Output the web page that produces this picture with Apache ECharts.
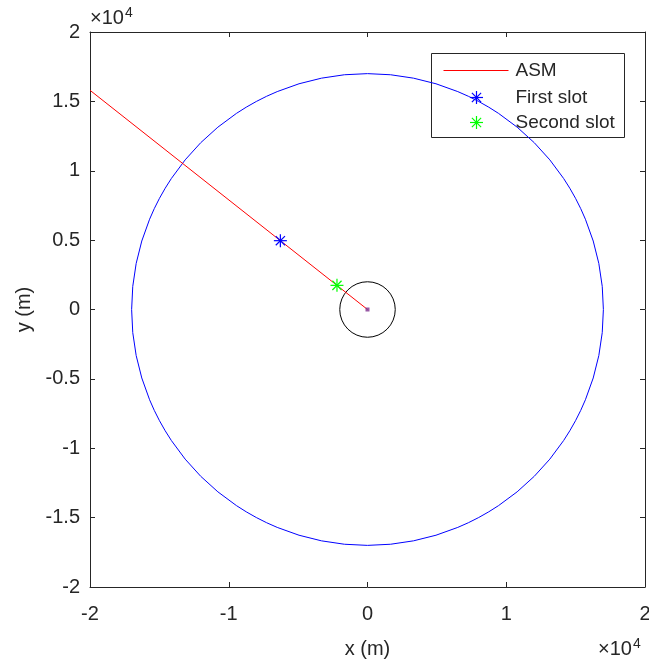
<!DOCTYPE html>
<html><head><meta charset="utf-8">
<script src="https://cdn.jsdelivr.net/npm/echarts@6/dist/echarts.min.js"></script>
<style>html,body{margin:0;padding:0;background:#fff;overflow:hidden}#c{width:649px;height:664px}</style>
</head><body><div id="c"></div>
<script>
// ---- data ----
const axisMin = -20000, axisMax = 20000;
const xTickStep = 10000, yTickStep = 5000;
const outerCircle = [[0, 0, 17000]];   // cx, cy, radius (m)
const innerCircle = [[0, 0, 2000]];
const asmLine = [[0, 0], [-20000, 15800]];
const firstSlot = [[-6280, 4960]];
const secondSlot = [[-2200, 1740]];
const origin = [[0, 0]];
const legendNames = ['ASM', 'First slot', 'Second slot'];

const FONT = '"Liberation Sans", Arial, Helvetica, sans-serif';
const AX = '#262626';
const chart = echarts.init(document.getElementById('c'), null, {renderer: 'canvas'});

function circleRender(color) {
  return function (params, api) {
    const c = api.coord([api.value(0), api.value(1)]);
    const r = api.size([api.value(2), 0])[0];
    return {type: 'circle', shape: {cx: c[0], cy: c[1], r: r},
      style: {fill: 'none', stroke: color, lineWidth: 1}};
  };
}
function starShapes(x, y, color, s) {
  const d = s * 0.707;
  const w = 1.2;
  return [
    {type: 'line', shape: {x1: x - s, y1: y, x2: x + s, y2: y}, style: {stroke: color, lineWidth: w}},
    {type: 'line', shape: {x1: x, y1: y - s, x2: x, y2: y + s}, style: {stroke: color, lineWidth: w}},
    {type: 'line', shape: {x1: x - d, y1: y - d, x2: x + d, y2: y + d}, style: {stroke: color, lineWidth: w}},
    {type: 'line', shape: {x1: x - d, y1: y + d, x2: x + d, y2: y - d}, style: {stroke: color, lineWidth: w}}
  ];
}
function starRender(color) {
  return function (params, api) {
    const c = api.coord([api.value(0), api.value(1)]);
    return {type: 'group', children: starShapes(c[0], c[1], color, 6.5)};
  };
}

const fmt = v => String(+(v / 10000).toFixed(2));
const axisCommon = {
  type: 'value', min: axisMin, max: axisMax,
  axisLine: {show: true, onZero: false, lineStyle: {color: AX, width: 1}},
  axisTick: {show: true, inside: true, length: 5, lineStyle: {color: AX}},
  splitLine: {show: false}
};

const option = {
  animation: false,
  grid: {left: 90, top: 32, width: 555, height: 555, containLabel: false, outerBoundsMode: 'none'},
  xAxis: [
    Object.assign({}, axisCommon, {position: 'bottom', interval: xTickStep,
      axisLabel: {formatter: fmt, color: AX, fontSize: 20, fontFamily: FONT, margin: 17},
      name: 'x (m)', nameLocation: 'middle', nameGap: 52,
      nameTextStyle: {color: AX, fontSize: 20, fontFamily: FONT}}),
    Object.assign({}, axisCommon, {position: 'top', interval: xTickStep, axisLabel: {show: false}})
  ],
  yAxis: [
    Object.assign({}, axisCommon, {position: 'left', interval: yTickStep,
      axisLabel: {formatter: fmt, color: AX, fontSize: 20, fontFamily: FONT, margin: 10},
      name: 'y (m)', nameLocation: 'middle', nameGap: 52, nameRotate: 90,
      nameTextStyle: {color: AX, fontSize: 20, fontFamily: FONT}}),
    Object.assign({}, axisCommon, {position: 'right', interval: yTickStep, axisLabel: {show: false}})
  ],
  series: [
    {type: 'custom', name: 'outer', renderItem: circleRender('#0000ff'), data: outerCircle, z: 2},
    {type: 'custom', name: 'inner', renderItem: circleRender('#000000'), data: innerCircle, z: 2},
    {type: 'line', name: legendNames[0], data: asmLine, symbol: 'none', clip: true,
      lineStyle: {color: '#ff0000', width: 1}, z: 3},
    {type: 'custom', name: legendNames[1], renderItem: starRender('#0000ff'), data: firstSlot, z: 4},
    {type: 'custom', name: legendNames[2], renderItem: starRender('#00ff00'), data: secondSlot, z: 4},
    {type: 'scatter', name: 'origin', data: origin, symbol: 'rect', symbolSize: 4,
      itemStyle: {color: '#7e2f8e'}, z: 5}
  ],
  graphic: [
    {type: 'text', left: 90, top: 6, style: {text: '{a|×10}{b|4}', fill: AX, font: '20px ' + FONT,
      rich: {a: {fontSize: 20, fontFamily: FONT, fill: AX}, b: {fontSize: 14, fontFamily: FONT, fill: AX, verticalAlign: 'top', padding: [0, 0, 10, 1]}}}},
    {type: 'text', left: 598, top: 637, style: {text: '{a|×10}{b|4}', fill: AX, font: '20px ' + FONT,
      rich: {a: {fontSize: 20, fontFamily: FONT, fill: AX}, b: {fontSize: 14, fontFamily: FONT, fill: AX, verticalAlign: 'top', padding: [0, 0, 10, 1]}}}},
    {type: 'group', left: 431, top: 53, z: 100, children: [
      {type: 'rect', shape: {x: 0, y: 0, width: 193, height: 84}, style: {fill: '#fff', stroke: AX, lineWidth: 1}},
      {type: 'line', shape: {x1: 12, y1: 17, x2: 77, y2: 17}, style: {stroke: '#ff0000', lineWidth: 1}},
      {type: 'group', children: starShapes(45, 44, '#0000ff', 6.5)},
      {type: 'group', children: starShapes(45, 69, '#00ff00', 6.5)},
      {type: 'text', x: 84, y: 17, style: {text: legendNames[0], fill: AX, font: '19px ' + FONT, verticalAlign: 'middle'}},
      {type: 'text', x: 84, y: 44, style: {text: legendNames[1], fill: AX, font: '19px ' + FONT, verticalAlign: 'middle'}},
      {type: 'text', x: 84, y: 69, style: {text: legendNames[2], fill: AX, font: '19px ' + FONT, verticalAlign: 'middle'}}
    ]}
  ]
};
chart.setOption(option);
</script></body></html>
